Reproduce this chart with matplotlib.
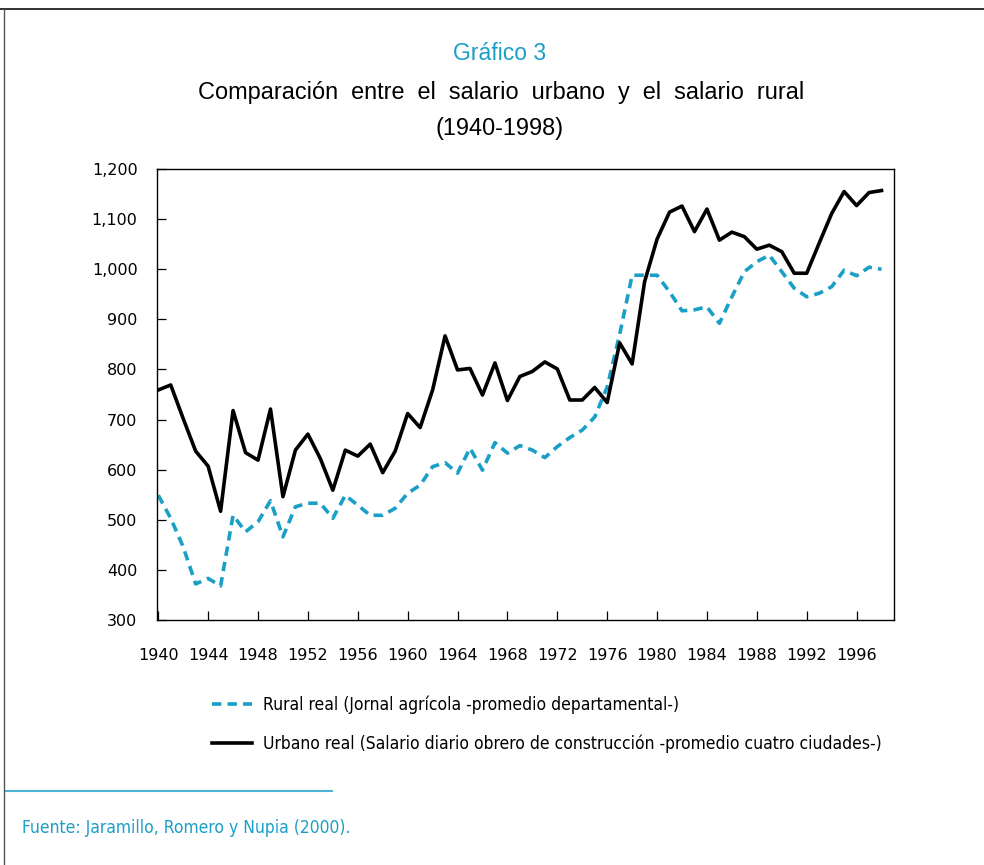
import matplotlib
matplotlib.use("Agg")
import matplotlib.pyplot as plt
from matplotlib.lines import Line2D
from matplotlib.font_manager import FontProperties

years = list(range(1940, 1999))
urbano = [759, 769, 702, 637, 607, 517, 718, 634, 619, 721,
          546, 639, 671, 622, 559, 639, 627, 651, 594, 637,
          712, 684, 759, 867, 799, 802, 749, 813, 738, 786,
          796, 815, 801, 739, 739, 764, 734, 853, 811, 975,
          1060, 1114, 1126, 1075, 1120, 1058, 1074, 1065, 1040, 1048,
          1035, 992, 992, 1052, 1111, 1155, 1127, 1153, 1157]
rural = [549, 503, 446, 372, 383, 368, 509, 476, 496, 538,
         466, 526, 533, 533, 503, 549, 529, 509, 509, 523,
         553, 569, 606, 614, 593, 643, 599, 654, 633, 648,
         639, 624, 646, 664, 679, 705, 765, 870, 988, 988,
         988, 955, 917, 919, 925, 892, 945, 995, 1015, 1028,
         995, 962, 945, 952, 965, 998, 987, 1004, 1000]
xticks = list(range(1940, 1997, 4))
yticks = list(range(300, 1201, 100))

label_rural = "Rural real (Jornal agrícola -promedio departamental-)"
label_urbano = "Urbano real (Salario diario obrero de construcción -promedio cuatro ciudades-)"
BLUE = "#1a9fc6"

fig = plt.figure(figsize=(9.84, 8.65), dpi=100)
ax = fig.add_axes([157/984, 1-620/865, (894-157)/984, (620-169)/865])

ax.plot(years, rural, color=BLUE, lw=2.6, dashes=(2.6, 1.7), label=label_rural)
ax.plot(years, urbano, color="black", lw=2.6, label=label_urbano)

ax.set_xlim(1939.9, 1999.0)
ax.set_ylim(300, 1200)
ax.set_xticks(xticks)
ax.set_xticklabels([str(x) for x in xticks])
ax.set_yticks(yticks)
ax.set_yticklabels([f"{y:,}" for y in yticks])
ax.tick_params(axis="both", direction="in", length=6.5, width=0.9,
               labelsize=11.5, colors="black")
ax.tick_params(axis="y", pad=14)
ax.tick_params(axis="x", pad=20)
for s in ax.spines.values():
    s.set_linewidth(1.0)

condprop = FontProperties(family="DejaVu Sans", stretch="condensed", size=12.5)
leg = fig.legend(loc="upper left", bbox_to_anchor=(196/984, 1-680/865),
                 frameon=False, handlelength=2.3, handletextpad=0.65,
                 labelspacing=1.15, prop=condprop)

fig.text(500/984, 1-54/865, "Gráfico 3", ha="center", va="center",
         color=BLUE, fontsize=16.5, family="Liberation Sans")
fig.text(501/984, 1-93/865, "Comparación  entre  el  salario  urbano  y  el  salario  rural",
         ha="center", va="center", color="black", fontsize=16.9, family="Liberation Sans")
fig.text(500/984, 1-129/865, "(1940-1998)", ha="center", va="center",
         color="black", fontsize=16.9, family="Liberation Sans")

fig.text(22/984, 1-828/865, "Fuente: Jaramillo, Romero y Nupia (2000).",
         ha="left", va="center", color=BLUE,
         fontproperties=FontProperties(family="DejaVu Sans", stretch="condensed", size=12.5))

fig.add_artist(Line2D([5/984, 332/984], [1-791/865, 1-791/865],
                      transform=fig.transFigure, color="#4ab5d4", lw=1.5))
fig.add_artist(Line2D([0, 1], [1-8.5/865, 1-8.5/865],
                      transform=fig.transFigure, color="#222222", lw=1.3))
fig.add_artist(Line2D([3.5/984, 3.5/984], [0, 1-8.5/865],
                      transform=fig.transFigure, color="#555555", lw=1.0))

fig.savefig("out.png", dpi=100)
